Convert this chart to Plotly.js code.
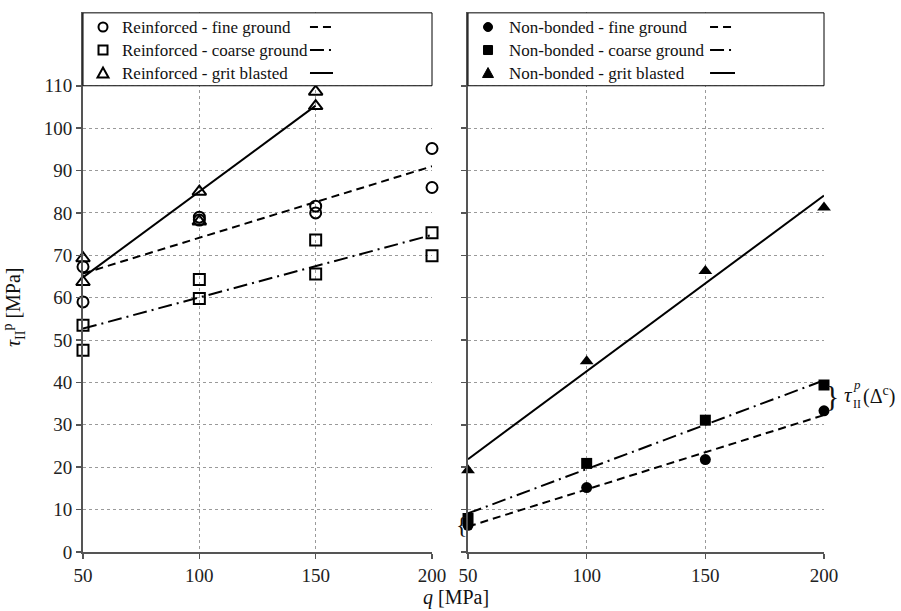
<!DOCTYPE html>
<html>
<head>
<meta charset="utf-8">
<script src="https://cdn.plot.ly/plotly-3.0.1.min.js"></script>
<style>html,body{margin:0;padding:0;background:#fff;}#chart{width:901px;height:611px;}</style>
</head>
<body>
<div id="chart"></div>
<script>
// ---- data ----
var qTicks = [50, 100, 150, 200];
var yTicks = [0, 10, 20, 30, 40, 50, 60, 70, 80, 90, 100, 110];

// Reinforced (left panel): two specimens per load level
var reinfQ        = [50, 50, 100, 100, 150, 150, 200, 200];
var reinfFine     = [67.3, 59.0, 79.0, 78.3, 81.6, 80.0, 95.2, 86.0];
var reinfCoarse   = [53.5, 47.6, 64.3, 59.8, 73.6, 65.6, 75.3, 69.9];
var reinfGritQ    = [50, 50, 100, 100, 150, 150];
var reinfGrit     = [69.3, 63.7, 85.0, 78.0, 108.6, 105.2];

// Reinforced trend lines (end points)
var fitQ            = [50, 200];
var reinfFineFit    = [65.7, 91.0];
var reinfCoarseFit  = [52.7, 74.8];
var reinfGritFitQ   = [50, 150];
var reinfGritFit    = [64.8, 105.3];

// Non-bonded (right panel)
var nbQ       = [50, 100, 150, 200];
var nbFine    = [6.3, 15.2, 21.8, 33.3];
var nbCoarse  = [7.9, 20.9, 31.1, 39.4];
var nbGrit    = [19.3, 45.0, 66.3, 81.3];

// Non-bonded trend lines (end points)
var nbFineFit   = [6.0, 32.3];
var nbCoarseFit = [9.1, 40.5];
var nbGritFit   = [21.9, 84.1];

var legendLeft  = ['Reinforced - fine ground', 'Reinforced - coarse ground', 'Reinforced - grit blasted'];
var legendRight = ['Non-bonded - fine ground', 'Non-bonded - coarse ground', 'Non-bonded - grit blasted'];

// ---- styles ----
var SERIF = 'Liberation Serif, serif';
var DASH_FINE = '8px,5px';
var DASH_COARSE = '14px,5px,2px,5px';
var LW = 2;
var DASHES = [DASH_FINE, DASH_COARSE, 'solid'];

function fit(x, y, xa, ya, dash) {
  return {x: x, y: y, xaxis: xa, yaxis: ya, type: 'scatter', mode: 'lines',
    line: {color: '#000', width: LW, dash: dash}, showlegend: false, hoverinfo: 'skip'};
}
function pts(x, y, xa, ya, name, symbol, size, open) {
  var m = {symbol: symbol, size: size, color: '#000'};
  if (open) m.line = {color: '#000', width: 2};
  return {x: x, y: y, xaxis: xa, yaxis: ya, type: 'scatter', mode: 'markers', name: name,
    marker: m, showlegend: false, cliponaxis: false};
}

var data = [
  fit(fitQ, reinfFineFit, 'x', 'y', DASH_FINE),
  fit(fitQ, reinfCoarseFit, 'x', 'y', DASH_COARSE),
  fit(reinfGritFitQ, reinfGritFit, 'x', 'y', 'solid'),
  fit(fitQ, nbFineFit, 'x2', 'y2', DASH_FINE),
  fit(fitQ, nbCoarseFit, 'x2', 'y2', DASH_COARSE),
  fit(fitQ, nbGritFit, 'x2', 'y2', 'solid'),
  pts(reinfQ, reinfFine, 'x', 'y', legendLeft[0], 'circle-open', 11, true),
  pts(reinfQ, reinfCoarse, 'x', 'y', legendLeft[1], 'square-open', 11, true),
  pts(reinfGritQ, reinfGrit, 'x', 'y', legendLeft[2], 'triangle-up-open', 12, true),
  pts(nbQ, nbFine, 'x2', 'y2', legendRight[0], 'circle', 11, false),
  pts(nbQ, nbCoarse, 'x2', 'y2', legendRight[1], 'square', 11, false),
  pts(nbQ, nbGrit, 'x2', 'y2', legendRight[2], 'triangle-up', 12, false)
];

var Y_TOP = 127.4;
var axisCommon = {
  showgrid: true, griddash: 'dot', gridcolor: '#9a9a9a', gridwidth: 1,
  showline: true, linecolor: '#555', linewidth: 2, zeroline: false,
  ticks: 'outside', ticklen: 5, tickwidth: 1.5, tickcolor: '#555',
  tickfont: {family: SERIF, size: 19, color: '#222'}
};
function ax(extra) { return Object.assign({}, axisCommon, extra); }

var D2 = 0.5196;
var rowY = [0.9722, 0.9296, 0.8870];

// legend geometry (paper units)
var legL = {sym: 0.027, text: 0.0499, s0: 0.3063, s1: 0.3374};
var legR = {sym: 0.5466, text: 0.5722, s0: 0.8462, s1: 0.8799};

function symShape(kind, xp, yp, filled) {
  var base = {xref: 'paper', yref: 'paper', xsizemode: 'pixel', ysizemode: 'pixel',
    xanchor: xp, yanchor: yp, layer: 'above',
    line: {color: '#000', width: filled ? 1 : 2},
    fillcolor: filled ? '#000' : 'rgba(0,0,0,0)'};
  if (kind === 'circle') return Object.assign(base, {type: 'circle', x0: -4.5, x1: 4.5, y0: -4.5, y1: 4.5});
  if (kind === 'square') return Object.assign(base, {type: 'rect', x0: -4.5, x1: 4.5, y0: -4.5, y1: 4.5});
  return Object.assign(base, {type: 'path', path: 'M -5.5 -4.5 L 5.5 -4.5 L 0 5.5 Z'});
}
function sample(x0, x1, yPaper, dash) {
  return {type: 'line', xref: 'paper', yref: 'paper', x0: x0, x1: x1, y0: yPaper, y1: yPaper,
    layer: 'above', line: {color: '#000', width: LW, dash: dash}};
}
function legText(x, y, txt) {
  return {xref: 'paper', yref: 'paper', x: x, y: y, xanchor: 'left', yanchor: 'middle',
    showarrow: false, text: txt, font: {family: SERIF, size: 17, color: '#111'}};
}

var shapes = [
  {type: 'rect', xref: 'x domain', yref: 'y', x0: 0, x1: 1, y0: 110, y1: Y_TOP - 0.2,
    fillcolor: '#fff', line: {color: '#000', width: 1}, layer: 'above'},
  {type: 'rect', xref: 'x2 domain', yref: 'y2', x0: 0, x1: 1, y0: 110, y1: Y_TOP - 0.2,
    fillcolor: '#fff', line: {color: '#000', width: 1}, layer: 'above'}
];
var kinds = ['circle', 'square', 'triangle'];
var annotations = [];
for (var i = 0; i < 3; i++) {
  shapes.push(symShape(kinds[i], legL.sym, rowY[i], false));
  shapes.push(symShape(kinds[i], legR.sym, rowY[i], true));
  shapes.push(sample(legL.s0, legL.s1, rowY[i], DASHES[i]));
  shapes.push(sample(legR.s0, legR.s1, rowY[i], DASHES[i]));
  annotations.push(legText(legL.text, rowY[i], legendLeft[i]));
  annotations.push(legText(legR.text, rowY[i], legendRight[i]));
}

annotations = annotations.concat([
  {xref: 'paper', yref: 'paper', x: -0.093, y: 0.4537, xanchor: 'center', yanchor: 'middle',
    textangle: -90, showarrow: false,
    text: '<i>τ</i><sub>II</sub><sup>p</sup> [MPa]', font: {family: SERIF, size: 20, color: '#111'}},
  {xref: 'paper', yref: 'paper', x: 0.503, y: -0.085, showarrow: false, xanchor: 'center', yanchor: 'middle',
    text: '<i>q</i> [MPa]', font: {family: SERIF, size: 20, color: '#111'}},
  {xref: 'paper', yref: 'paper', x: 1.0108, y: 0.2907, showarrow: false, xanchor: 'center', yanchor: 'middle',
    text: '}', font: {family: SERIF, size: 30, color: '#111'}},
  {xref: 'paper', yref: 'paper', x: 1.0243, y: 0.2907, showarrow: false, xanchor: 'left', yanchor: 'middle',
    text: '<i>τ</i>', font: {family: SERIF, size: 21, color: '#111'}},
  {xref: 'paper', yref: 'paper', x: 1.0365, y: 0.3100, showarrow: false, xanchor: 'left', yanchor: 'middle',
    text: '<i>p</i>', font: {family: SERIF, size: 13, color: '#111'}},
  {xref: 'paper', yref: 'paper', x: 1.0365, y: 0.2740, showarrow: false, xanchor: 'left', yanchor: 'middle',
    text: 'II', font: {family: SERIF, size: 12, color: '#111'}},
  {xref: 'paper', yref: 'paper', x: 1.0500, y: 0.2907, showarrow: false, xanchor: 'left', yanchor: 'middle',
    text: '(Δ<sup>c</sup>)', font: {family: SERIF, size: 20, color: '#111'}},
  {xref: 'paper', yref: 'paper', x: 0.5115, y: 0.0509, showarrow: false, xanchor: 'center', yanchor: 'middle',
    text: '{', font: {family: SERIF, size: 24, color: '#111'}}
]);

var layout = {
  width: 901, height: 611,
  margin: {l: 83, r: 77, t: 12, b: 59},
  paper_bgcolor: '#fff', plot_bgcolor: '#fff',
  font: {family: SERIF, color: '#111'},
  showlegend: false,
  xaxis: ax({domain: [0, 0.471], range: [50, 200], tickvals: qTicks, anchor: 'y'}),
  yaxis: ax({domain: [0, 1], range: [0, Y_TOP], tickvals: yTicks, anchor: 'x'}),
  xaxis2: ax({domain: [D2, 1], range: [50, 200], tickvals: qTicks, anchor: 'y2'}),
  yaxis2: ax({domain: [0, 1], range: [0, Y_TOP], tickvals: yTicks, anchor: 'x2', showticklabels: false}),
  shapes: shapes,
  annotations: annotations
};

Plotly.newPlot('chart', data, layout, {displayModeBar: false, staticPlot: true});
</script>
</body>
</html>
